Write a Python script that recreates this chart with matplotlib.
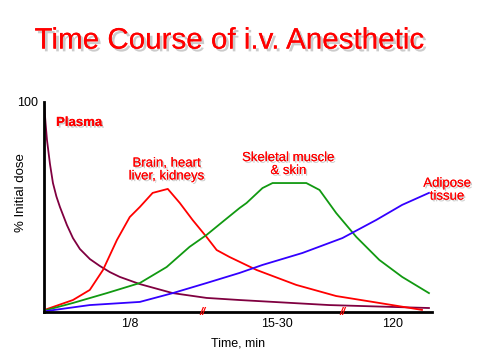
import matplotlib.pyplot as plt
import matplotlib.patheffects as pe

plt.rcParams['font.family'] = ['Liberation Sans', 'DejaVu Sans']

# x in 0..100 (relative time), y in % of initial dose
plasma_x = [0, 0.4, 0.77, 1.54, 2.31, 3.2, 4.11, 5.91, 7.46, 9.25, 11.83, 14.4, 16.97, 19.54, 24.68, 33.16, 41.9, 50.4, 73.5, 99.2]
plasma_y = [100, 90, 81.9, 70.5, 61.4, 55, 50, 41.4, 35.2, 30, 25.2, 21.9, 19, 16.7, 13.3, 9.0, 6.7, 5.7, 3.3, 1.9]

brain_x = [0.77, 7.46, 11.8, 15.2, 18.8, 22.1, 24.7, 28.0, 31.9, 35.0, 38.3, 41.9, 44.5, 47.8, 54.8, 65.0, 75.3, 86.4, 97.4]
brain_y = [1.4, 5.7, 10.5, 20, 34.3, 45.2, 50, 56.7, 58.6, 51.9, 43.8, 35.7, 29.5, 26.2, 20, 12.9, 7.6, 4.3, 1.0]

muscle_x = [0.77, 7.46, 16.2, 24.7, 31.6, 37.5, 41.9, 46.0, 50.4, 52.2, 56.3, 58.9, 67.6, 71.0, 75.3, 80.5, 86.4, 92.3, 99.2]
muscle_y = [1.0, 4.3, 9.0, 13.8, 21.4, 31.0, 36.7, 42.9, 49.5, 51.9, 59.0, 61.4, 61.4, 58.1, 47.1, 35.7, 24.8, 16.7, 9.0]

adipose_x = [0.77, 11.8, 24.7, 33.2, 41.9, 50.4, 56.3, 66.6, 76.9, 85.6, 92.3, 99.2]
adipose_y = [0.5, 3.3, 4.8, 9.0, 13.8, 18.6, 22.4, 28.1, 35.2, 43.8, 51.0, 56.7]

tick_pos = [22.1, 59.9, 89.7]
tick_labels = ['1/8', '15-30', '120']
break_pos = [40.9, 76.9]

shadow = [pe.withSimplePatchShadow(offset=(1.2, -1.2), shadow_rgbFace='#888888', alpha=0.45), pe.Normal()]

fig = plt.figure(figsize=(4.86, 3.56), dpi=100)
ax = fig.add_axes([0.0905, 0.1236, 0.7985, 0.59])

ax.plot(plasma_x, plasma_y, color='#800040', lw=1.3)
ax.plot(brain_x, brain_y, color='#ff0000', lw=1.3)
ax.plot(muscle_x, muscle_y, color='#119911', lw=1.3)
ax.plot(adipose_x, adipose_y, color='#3300ff', lw=1.3)

ax.set_xlim(0, 100)
ax.set_ylim(0, 100)
ax.spines['top'].set_visible(False)
ax.spines['right'].set_visible(False)
ax.spines['left'].set_linewidth(2)
ax.spines['bottom'].set_linewidth(2)
ax.set_xticks(tick_pos, tick_labels, fontsize=9)
ax.set_yticks([100], ['100'], fontsize=9)
ax.tick_params(length=0, pad=4)
ax.set_xlabel('Time, min', fontsize=9, labelpad=6)
ax.set_ylabel('% Initial dose', fontsize=9.5)
ax.yaxis.set_label_coords(-0.045, 0.57)

for b in break_pos:
    ax.text(b, 0, '//', color='red', fontsize=8, fontweight='bold', ha='center', va='center',
            style='italic')

lab = dict(color='red', fontsize=9.5, ha='center', va='center', path_effects=shadow, linespacing=1.1)
ax.text(3.1, 90, 'Plasma', color='red', fontsize=9.5, ha='left', va='center', fontweight='bold',
        path_effects=shadow)
ax.text(31.6, 67.6, 'Brain, heart\nliver, kidneys', **lab)
ax.text(63, 70.2, 'Skeletal muscle\n& skin', **lab)
ax.text(103.9, 58, 'Adipose\ntissue', **lab)

fig.text(0.473, 0.886, 'Time Course of i.v. Anesthetic', color='red', fontsize=21.3,
         ha='center', va='center',
         path_effects=[pe.withSimplePatchShadow(offset=(2, -2), shadow_rgbFace='#999999', alpha=0.5), pe.Normal()])

fig.savefig('out.png', dpi=100)
